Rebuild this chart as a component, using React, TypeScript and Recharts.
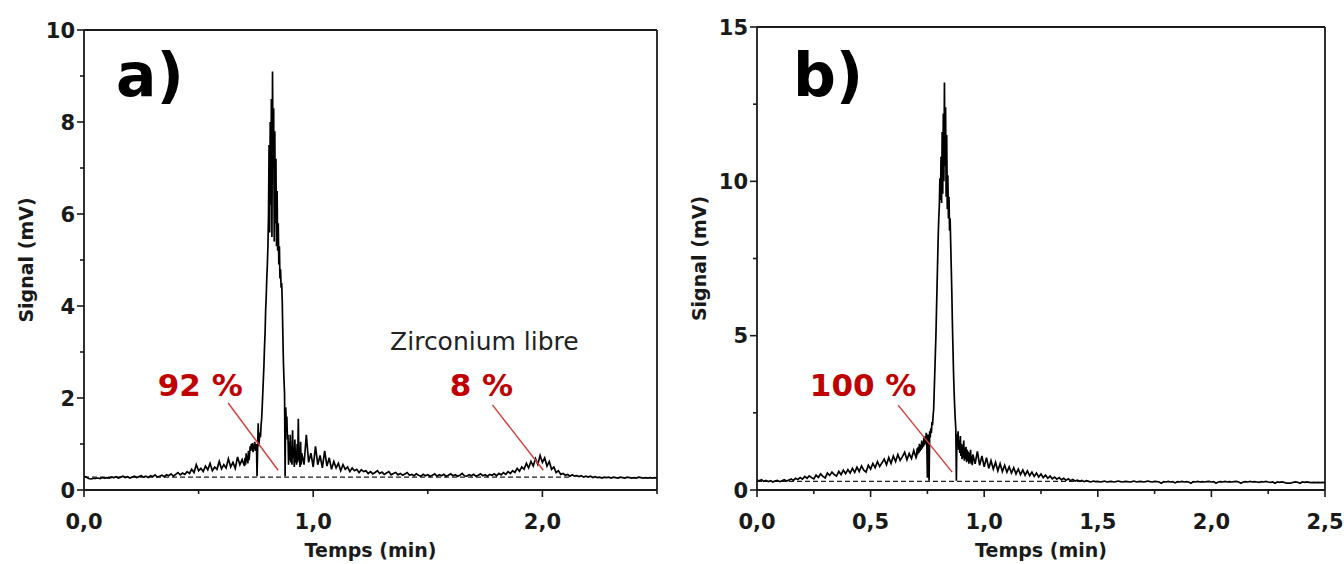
import React from "react";
import { LineChart, Line, XAxis, YAxis, ReferenceLine, ReferenceDot } from "recharts";

const FONT = '"DejaVu Sans", sans-serif';
const INK = "#1a1a1a";
const RED = "#c00000";
const RED_LINE = "#d0443c";

// ---- panel a) : signal (mV) vs temps (min) ----
// 0.00 -> 0.70 min, every 0.01 min
const A_SEG1 = [
  0.30, 0.28, 0.25, 0.24, 0.25, 0.25, 0.26, 0.25, 0.27, 0.26,
  0.27, 0.26, 0.28, 0.27, 0.29, 0.26, 0.28, 0.30, 0.27, 0.29,
  0.26, 0.28, 0.30, 0.27, 0.29, 0.31, 0.28, 0.30, 0.27, 0.31,
  0.29, 0.33, 0.28, 0.30, 0.32, 0.29, 0.33, 0.31, 0.35, 0.30,
  0.34, 0.38, 0.33, 0.37, 0.34, 0.40, 0.36, 0.45, 0.38, 0.55,
  0.42, 0.47, 0.40, 0.52, 0.44, 0.58, 0.42, 0.50, 0.45, 0.62,
  0.46, 0.55, 0.48, 0.68, 0.50, 0.60, 0.47, 0.72, 0.55, 0.66,
  0.52,
];
// 0.7025 -> 0.95 min, every 0.0025 min (main peak)
const A_SEG2 = [
  0.70, 0.55, 0.80, 0.62, 0.75, 0.58, 0.85, 0.65, 0.78, 0.95,
  0.85, 1.00, 0.88, 1.02, 0.82, 0.98, 0.90, 1.05, 0.85, 0.95,
  1.00, 0.30, 0.90, 1.45, 0.95, 1.10, 1.25, 1.15, 1.40, 1.55,
  1.80, 2.10, 2.40, 2.70, 3.10, 3.40, 3.90, 4.20, 4.60, 4.90,
  5.30, 6.00, 7.50, 5.60, 8.00, 6.20, 8.50, 5.50, 9.10, 7.00,
  8.30, 5.40, 7.80, 5.80, 7.20, 5.30, 6.50, 5.20, 5.80, 4.90,
  5.30, 4.60, 4.80, 4.40, 4.50, 4.10, 3.40, 2.80, 2.40, 2.10,
  0.30, 1.80, 1.50, 1.60, 1.10, 1.20, 0.55, 1.05, 0.65, 1.20,
  0.60, 0.95, 0.55, 1.30, 0.70, 0.90, 0.50, 1.10, 0.60, 0.85,
  0.55, 1.00, 0.60, 1.55, 0.65, 0.90, 0.50, 1.05, 0.55, 0.80,
];
// 0.96 -> 2.50 min, every 0.01 min
const A_SEG3 = [
  0.55, 1.20, 0.60, 0.80,
  0.50, 0.95, 0.55, 0.75, 0.48, 0.85, 0.52, 0.70, 0.45, 0.62,
  0.48, 0.58, 0.42, 0.55, 0.45, 0.50, 0.40, 0.48, 0.42, 0.45,
  0.38, 0.44, 0.40, 0.42, 0.36, 0.40, 0.35, 0.38, 0.42, 0.36,
  0.39, 0.34, 0.37, 0.40, 0.33, 0.36, 0.38, 0.33, 0.36, 0.32,
  0.35, 0.38, 0.32, 0.34, 0.31, 0.35, 0.32, 0.30, 0.34, 0.31,
  0.33, 0.30, 0.32, 0.35, 0.30, 0.33, 0.31, 0.34, 0.30, 0.32,
  0.35, 0.31, 0.33, 0.30, 0.32, 0.36, 0.31, 0.30, 0.33, 0.31,
  0.34, 0.30, 0.32, 0.35, 0.31, 0.33, 0.30, 0.34, 0.32, 0.35,
  0.31, 0.36, 0.33, 0.38, 0.34, 0.40, 0.36, 0.42, 0.38, 0.47,
  0.41, 0.50, 0.45, 0.58, 0.48, 0.62, 0.52, 0.68, 0.56, 0.75,
  0.60, 0.70, 0.52, 0.62, 0.45, 0.50, 0.38, 0.42, 0.34, 0.36,
  0.32, 0.34, 0.30, 0.33, 0.30, 0.31, 0.29, 0.31, 0.28, 0.30,
  0.28, 0.30, 0.27, 0.29, 0.27, 0.28, 0.26, 0.28, 0.27, 0.28,
  0.26, 0.28, 0.27, 0.26, 0.28, 0.27, 0.26, 0.28, 0.27, 0.26,
  0.27, 0.26, 0.28, 0.27, 0.26, 0.27, 0.26, 0.27, 0.26, 0.27,
  0.26,
];

// ---- panel b) ----
const B_SEG1 = [
  0.32, 0.30, 0.33, 0.28, 0.31, 0.27, 0.30, 0.26, 0.29, 0.31,
  0.27, 0.30, 0.33, 0.29, 0.32, 0.36, 0.31, 0.38, 0.34, 0.40,
  0.35, 0.44, 0.38, 0.46, 0.40, 0.36, 0.48, 0.41, 0.52, 0.44,
  0.39, 0.55, 0.47, 0.58, 0.50, 0.45, 0.60, 0.50, 0.64, 0.53,
  0.66, 0.55, 0.70, 0.57, 0.74, 0.60, 0.78, 0.64, 0.58, 0.80,
  0.68, 0.86, 0.72, 0.92, 0.76, 0.88, 1.00, 0.82, 1.05, 0.86,
  1.10, 0.92, 1.15, 0.96, 1.08, 1.22, 0.98, 1.18, 1.02, 1.28,
  1.05,
];
const B_SEG2 = [
  1.10, 1.35, 1.15, 1.40, 1.20, 1.50, 1.25, 1.45, 1.30, 1.60,
  1.35, 1.55, 1.40, 1.70, 1.45, 1.75, 1.50, 1.85, 1.55, 0.40,
  1.80, 1.60, 0.30, 1.90, 1.70, 2.00, 1.85, 2.20, 2.10, 2.40,
  2.60, 3.20, 3.80, 4.40, 5.00, 5.80, 6.60, 7.40, 8.20, 8.80,
  9.20, 10.10, 9.40, 10.80, 9.30, 11.60, 9.60, 12.20, 10.00, 13.20,
  10.50, 12.40, 9.50, 11.50, 9.10, 10.20, 8.80, 9.50, 8.40, 8.80,
  8.00, 7.20, 6.40, 5.40, 4.60, 3.80, 3.20, 2.70, 2.30, 2.00,
  0.30, 1.80, 1.50, 1.90, 1.30, 1.60, 1.20, 1.75, 1.10, 1.50,
  1.00, 1.45, 1.05, 1.60, 0.95, 1.35, 1.00, 1.40, 0.90, 1.30,
  0.95, 1.25, 0.85, 1.20, 0.90, 1.30, 0.85, 1.10, 0.80, 1.15,
];
const B_SEG3 = [
  0.85, 1.25, 0.80, 1.10,
  0.75, 1.05, 0.70, 0.95, 0.68, 0.90, 0.62, 0.85, 0.60, 0.80,
  0.58, 0.75, 0.55, 0.72, 0.52, 0.68, 0.50, 0.65, 0.48, 0.62,
  0.46, 0.58, 0.44, 0.55, 0.42, 0.52, 0.40, 0.48, 0.38, 0.45,
  0.36, 0.42, 0.35, 0.40, 0.33, 0.38, 0.32, 0.36, 0.30, 0.34,
  0.29, 0.32, 0.28, 0.31, 0.27, 0.30, 0.28, 0.26, 0.29, 0.27,
  0.28, 0.26, 0.27, 0.29, 0.26, 0.27, 0.28, 0.26, 0.27, 0.29,
  0.27, 0.26, 0.28, 0.27, 0.26, 0.27, 0.29, 0.26, 0.27, 0.28,
  0.26, 0.27, 0.29, 0.27, 0.26, 0.28, 0.27, 0.26, 0.22, 0.27,
  0.26, 0.28, 0.26, 0.27, 0.23, 0.27, 0.26, 0.28, 0.26, 0.27,
  0.26, 0.22, 0.27, 0.26, 0.28, 0.26, 0.27, 0.26, 0.27, 0.28,
  0.26, 0.27, 0.22, 0.26, 0.27, 0.26, 0.28, 0.26, 0.27, 0.26,
  0.27, 0.28, 0.26, 0.22, 0.26, 0.27, 0.26, 0.28, 0.26, 0.27,
  0.26, 0.25, 0.27, 0.26, 0.28, 0.26, 0.25, 0.26, 0.22, 0.26,
  0.25, 0.26, 0.25, 0.22, 0.22, 0.22, 0.25, 0.26, 0.25, 0.22,
  0.26, 0.25, 0.26, 0.25, 0.24, 0.25, 0.24, 0.25, 0.24, 0.25,
  0.24,
];

// axes
const X_MAX = 2.5;
const A_X_TICKS = [0, 0.5, 1, 1.5, 2, 2.5];
const A_X_LABELED = [0, 1, 2];
const A_Y_MAX = 10;
const A_Y_TICKS = [0, 1, 2, 3, 4, 5, 6, 7, 8, 9, 10];
const A_Y_LABELED = [0, 2, 4, 6, 8, 10];
const B_X_TICKS = [0, 0.25, 0.5, 0.75, 1, 1.25, 1.5, 1.75, 2, 2.25, 2.5];
const B_X_LABELED = [0, 0.5, 1, 1.5, 2, 2.5];
const B_Y_MAX = 15;
const B_Y_TICKS = [0, 2.5, 5, 7.5, 10, 12.5, 15];
const B_Y_LABELED = [0, 5, 10, 15];

// dashed baseline [level, from, to]
const A_BASELINE = [0.28, 0, 2.12];
const B_BASELINE = [0.28, 0, 1.45];

// annotations (data coordinates)
const A_NOTES = [
  { text: "a)", t: 0.288, v: 8.57, size: 60, weight: 700, color: "#000" },
  { text: "92 %", t: 0.507, v: 2.04, size: 31, weight: 700, color: RED },
  { text: "Zirconium libre", t: 1.747, v: 3.04, size: 25, weight: 400, color: "#222" },
  { text: "8 %", t: 1.734, v: 2.04, size: 31, weight: 700, color: RED },
];
const A_POINTERS = [
  [0.629, 1.89, 0.847, 0.43],
  [1.782, 1.85, 2.004, 0.43],
];
const B_NOTES = [
  { text: "b)", t: 0.313, v: 12.76, size: 60, weight: 700, color: "#000" },
  { text: "100 %", t: 0.467, v: 3.05, size: 31, weight: 700, color: RED },
];
const B_POINTERS = [[0.621, 2.75, 0.859, 0.58]];

type Seg = { start: number; step: number; values: number[] };

function buildRows(segs: Seg[]) {
  const rows: { t: number; v: number }[] = [];
  segs.forEach((s) =>
    s.values.forEach((v, i) => rows.push({ t: +(s.start + i * s.step).toFixed(4), v }))
  );
  return rows;
}

const A_DATA = buildRows([
  { start: 0, step: 0.01, values: A_SEG1 },
  { start: 0.7025, step: 0.0025, values: A_SEG2 },
  { start: 0.96, step: 0.01, values: A_SEG3 },
]);
const B_DATA = buildRows([
  { start: 0, step: 0.01, values: B_SEG1 },
  { start: 0.7025, step: 0.0025, values: B_SEG2 },
  { start: 0.96, step: 0.01, values: B_SEG3 },
]);

const fmtX = (v: number) => v.toFixed(1).replace(".", ",");

function XTick(p: any) {
  const major = p.labeled.includes(p.payload.value);
  return (
    <g>
      <line x1={p.x} x2={p.x} y1={p.y} y2={p.y + (major ? 7 : 4)} stroke={INK} strokeWidth={1.6} />
      {major && (
        <text x={p.x} y={p.y + 39} textAnchor="middle" fontFamily={FONT} fontWeight={700} fontSize={21} fill={INK}>
          {fmtX(p.payload.value)}
        </text>
      )}
    </g>
  );
}

function YTick(p: any) {
  const major = p.labeled.includes(p.payload.value);
  return (
    <g>
      <line x1={p.x - (major ? 7 : 4)} x2={p.x} y1={p.y} y2={p.y} stroke={INK} strokeWidth={1.6} />
      {major && (
        <text x={p.x - 9} y={p.y} dy={7.5} textAnchor="end" fontFamily={FONT} fontWeight={700} fontSize={21} fill={INK}>
          {p.payload.value}
        </text>
      )}
    </g>
  );
}

function Panel(props: {
  data: { t: number; v: number }[];
  width: number;
  top: number;
  right: number;
  yWidth: number;
  xTicks: number[];
  xLabeled: number[];
  yMax: number;
  yTicks: number[];
  yLabeled: number[];
  baseline: number[];
  notes: { text: string; t: number; v: number; size: number; weight: number; color: string }[];
  pointers: number[][];
}) {
  const { data, width, top, right, yWidth, xTicks, xLabeled, yMax, yTicks, yLabeled, baseline, notes, pointers } = props;
  return (
    <LineChart width={width} height={564} data={data} margin={{ top, right, bottom: 0, left: 0 }}>
      <XAxis
        dataKey="t"
        type="number"
        domain={[0, X_MAX]}
        allowDataOverflow
        ticks={xTicks}
        interval={0}
        height={74}
        tickSize={0}
        tickMargin={0}
        tickLine={false}
        axisLine={{ stroke: INK, strokeWidth: 1.8 }}
        tick={(p: any) => <XTick {...p} labeled={xLabeled} />}
        label={(lp: any) => (
          <text
            x={lp.viewBox.x + lp.viewBox.width / 2}
            y={lp.viewBox.y + 67}
            textAnchor="middle"
            fontFamily={FONT}
            fontWeight={700}
            fontSize={19}
            fill={INK}
          >
            Temps (min)
          </text>
        )}
      />
      <YAxis
        type="number"
        domain={[0, yMax]}
        allowDataOverflow
        ticks={yTicks}
        interval={0}
        width={yWidth}
        tickSize={0}
        tickMargin={0}
        tickLine={false}
        axisLine={{ stroke: INK, strokeWidth: 1.8 }}
        tick={(p: any) => <YTick {...p} labeled={yLabeled} />}
        label={(lp: any) => {
          const cx = lp.viewBox.x + lp.viewBox.width - 58;
          const cy = lp.viewBox.y + lp.viewBox.height / 2;
          return (
            <text
              x={cx}
              y={cy}
              transform={`rotate(-90 ${cx} ${cy})`}
              textAnchor="middle"
              dominantBaseline="central"
              fontFamily={FONT}
              fontWeight={700}
              fontSize={19}
              fill={INK}
            >
              Signal (mV)
            </text>
          );
        }}
      />
      <ReferenceLine y={yMax} stroke={INK} strokeWidth={1.8} />
      <ReferenceLine x={X_MAX} stroke={INK} strokeWidth={1.8} />
      <ReferenceLine
        segment={[{ x: baseline[1], y: baseline[0] }, { x: baseline[2], y: baseline[0] }]}
        stroke={INK}
        strokeWidth={1.3}
        strokeDasharray="5 3"
      />
      <Line
        type="linear"
        dataKey="v"
        stroke="#000"
        strokeWidth={1.7}
        dot={false}
        activeDot={false}
        isAnimationActive={false}
      />
      {pointers.map((s, i) => (
        <ReferenceLine
          key={"p" + i}
          segment={[{ x: s[0], y: s[1] }, { x: s[2], y: s[3] }]}
          stroke={RED_LINE}
          strokeWidth={1.5}
        />
      ))}
      {notes.map((n, i) => (
        <ReferenceDot
          key={"n" + i}
          x={n.t}
          y={n.v}
          r={0}
          fill="none"
          stroke="none"
          label={(lp: any) => (
            <text
              x={lp.viewBox.x + lp.viewBox.width / 2}
              y={lp.viewBox.y + lp.viewBox.height / 2}
              textAnchor="middle"
              fontFamily={FONT}
              fontWeight={n.weight}
              fontSize={n.size}
              fill={n.color}
            >
              {n.text}
            </text>
          )}
        />
      ))}
    </LineChart>
  );
}

export default function App() {
  return (
    <div style={{ position: "absolute", left: 0, top: 0, width: 1344, height: 564, background: "#fff" }}>
      <div style={{ position: "absolute", left: 0, top: 0 }}>
        <Panel
          data={A_DATA}
          width={680}
          top={30}
          right={23}
          yWidth={84}
          xTicks={A_X_TICKS}
          xLabeled={A_X_LABELED}
          yMax={A_Y_MAX}
          yTicks={A_Y_TICKS}
          yLabeled={A_Y_LABELED}
          baseline={A_BASELINE}
          notes={A_NOTES}
          pointers={A_POINTERS}
        />
      </div>
      <div style={{ position: "absolute", left: 680, top: 0 }}>
        <Panel
          data={B_DATA}
          width={664}
          top={27}
          right={19}
          yWidth={77}
          xTicks={B_X_TICKS}
          xLabeled={B_X_LABELED}
          yMax={B_Y_MAX}
          yTicks={B_Y_TICKS}
          yLabeled={B_Y_LABELED}
          baseline={B_BASELINE}
          notes={B_NOTES}
          pointers={B_POINTERS}
        />
      </div>
    </div>
  );
}
